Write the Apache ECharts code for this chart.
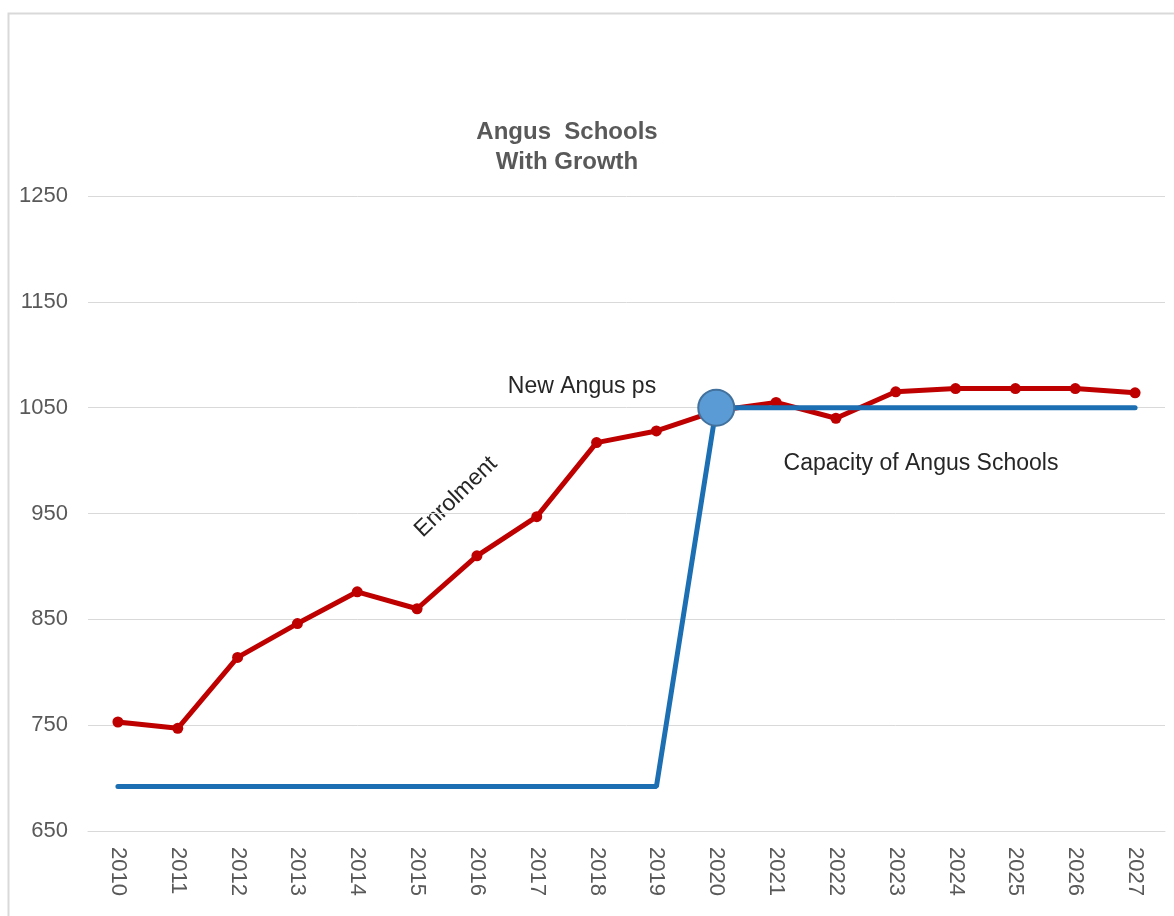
<!DOCTYPE html>
<html>
<head>
<meta charset="utf-8">
<script src="https://cdn.jsdelivr.net/npm/echarts@6/dist/echarts.min.js"></script>
<style>
html,body{margin:0;padding:0;background:#fff;}
#chart{width:1174px;height:916px;}
</style>
</head>
<body>
<div id="chart"></div>
<script>
var years = ['2010','2011','2012','2013','2014','2015','2016','2017','2018','2019','2020','2021','2022','2023','2024','2025','2026','2027'];
var enrolment = [753, 747, 814, 846, 876, 860, 910, 947, 1017, 1028, 1047, 1055, 1040, 1065, 1068, 1068, 1068, 1064];
var capacity = [692, 692, 692, 692, 692, 692, 692, 692, 692, 692, 1050, 1050, 1050, 1050, 1050, 1050, 1050, 1050];
var highlightYear = '2020';
var yTicks = [650, 750, 850, 950, 1050, 1150, 1250];

var FONT = '"Liberation Sans", Arial, sans-serif';
var chart = echarts.init(document.getElementById('chart'));

var capData = capacity.map(function (v, i) {
  if (years[i] === highlightYear) {
    return {
      value: v,
      symbol: 'circle',
      symbolSize: 36,
      itemStyle: { color: '#5b9bd5', borderColor: '#41719c', borderWidth: 2 }
    };
  }
  return v;
});

chart.setOption({
  animation: false,
  backgroundColor: '#ffffff',
  grid: { left: 88, right: 9, top: 196, bottom: 85, containLabel: false },
  xAxis: {
    type: 'category',
    data: years,
    boundaryGap: true,
    axisLine: { show: true, lineStyle: { color: '#d9d9d9', width: 1 } },
    axisTick: { show: false },
    axisLabel: {
      rotate: -90,
      margin: 16,
      color: '#595959',
      fontFamily: FONT,
      fontSize: 22,
      interval: 0
    }
  },
  yAxis: {
    type: 'value',
    min: yTicks[0],
    max: yTicks[yTicks.length - 1],
    interval: 100,
    axisLine: { show: false },
    axisTick: { show: false },
    splitLine: { lineStyle: { color: '#d9d9d9', width: 1 } },
    axisLabel: {
      margin: 20,
      color: '#595959',
      fontFamily: FONT,
      fontSize: 22,
      formatter: function (v) { return String(v); }
    }
  },
  series: [
    {
      name: 'Enrolment',
      type: 'line',
      data: enrolment,
      symbol: 'circle',
      symbolSize: 11,
      lineStyle: { color: '#be0000', width: 5 },
      itemStyle: { color: '#be0000' },
      z: 2
    },
    {
      name: 'Capacity',
      type: 'line',
      data: capData,
      symbol: 'none',
      showSymbol: true,
      lineStyle: { color: '#1c6fb2', width: 5, cap: 'round' },
      itemStyle: { color: '#1c6fb2' },
      z: 3
    }
  ],
  graphic: [
    {
      type: 'rect',
      left: 6, top: 11,
      shape: { width: 1200, height: 1000 },
      style: { fill: 'none', stroke: '#d9d9d9', lineWidth: 2 },
      silent: true, z: -1
    },
    {
      type: 'text',
      x: 567, y: 117,
      style: {
        text: 'Angus  Schools\nWith Growth',
        fill: '#595959',
        font: 'bold 24px ' + FONT,
        textAlign: 'center',
        textVerticalAlign: 'top',
        lineHeight: 30
      }
    },
    {
      type: 'text',
      x: 582, y: 387,
      style: {
        text: 'New Angus ps',
        fill: '#262626',
        font: '23px ' + FONT,
        textAlign: 'center',
        textVerticalAlign: 'middle'
      }
    },
    {
      type: 'text',
      x: 921, y: 464,
      style: {
        text: 'Capacity of Angus Schools',
        fill: '#262626',
        font: '23px ' + FONT,
        textAlign: 'center',
        textVerticalAlign: 'middle'
      }
    },
    {
      type: 'text',
      x: 456, y: 497,
      rotation: 44 * Math.PI / 180,
      style: {
        text: 'Enrolment',
        fill: '#262626',
        font: '23px ' + FONT,
        textAlign: 'center',
        textVerticalAlign: 'middle'
      }
    }
  ]
});
</script>
</body>
</html>
